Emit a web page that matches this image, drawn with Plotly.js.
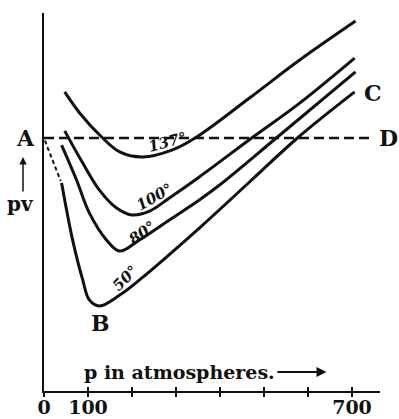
<!DOCTYPE html>
<html>
<head>
<meta charset="utf-8">
<script src="https://cdn.plot.ly/plotly-3.0.1.min.js"></script>
<style>
  html, body {margin: 0; padding: 0; background: #fff;}
  #chart {width: 399px; height: 419px;}
</style>
</head>
<body>
<div id="chart"></div>
<script>
// isotherms of pv against p (pv in units of the value at A)
var p137 = [47, 81, 131, 172, 224, 292, 347, 467, 581, 708]
var pv137 = [1.182, 1.099, 1.004, 0.945, 0.925, 0.953, 1.004, 1.158, 1.308, 1.462]
var p100 = [47, 88, 126, 165, 199, 240, 285, 353, 472, 581, 706]
var pv100 = [1.028, 0.901, 0.794, 0.723, 0.696, 0.711, 0.763, 0.846, 1.0, 1.138, 1.316]
var p80 = [40, 74, 103, 142, 172, 217, 285, 353, 399, 528, 708]
var pv80 = [0.972, 0.834, 0.704, 0.597, 0.553, 0.597, 0.676, 0.755, 0.814, 1.0, 1.261]
var p50 = [40, 65, 88, 103, 126, 172, 217, 353, 467, 576, 706]
var pv50 = [0.822, 0.597, 0.439, 0.360, 0.336, 0.379, 0.439, 0.644, 0.826, 1.0, 1.182]
var p50dash = [2, 38]
var pv50dash = [0.99, 0.83]
var pAD = [0, 747]
var pvAD = [1, 1]

var tickVals = [0, 100, 200, 300, 400, 500, 600, 700]
var tickText = ['0', '100', '', '', '', '', '', '700']

var ink = '#111'
var serif = 'DejaVu Serif'

function curve(x, y, dash, width){
	return {
		x: x,
		y: y,
		mode: 'lines',
		type: 'scatter',
		line: {color: ink, width: width, dash: dash, shape: 'spline', smoothing: 1},
		hoverinfo: 'skip',
		showlegend: false,
	}
}

var traces = [
	curve(pAD, pvAD, '10px,5px', 2.5),
	curve(p50dash, pv50dash, '4px,3px', 2),
	curve(p137, pv137, 'solid', 3),
	curve(p100, pv100, 'solid', 3),
	curve(p80, pv80, 'solid', 3),
	curve(p50, pv50, 'solid', 3),
]

// same ticks again, drawn on the inner side of the axis
var innerTicks = {x: [0, 700], y: [0, 0], xaxis: 'x2', mode: 'none', type: 'scatter', hoverinfo: 'skip', showlegend: false}
traces.push(innerTicks)

function label(text, x, y, size, extra){
	var a = {
		text: text, x: x, y: y, xref: 'x', yref: 'y',
		xanchor: 'center', yanchor: 'middle',
		showarrow: false,
		font: {family: serif, size: size, color: ink, weight: 'bold'},
	}
	return Object.assign(a, extra || {})
}

function degLabel(text, x, y, angle){
	return label(text, x, y, 15, {
		textangle: angle,
		font: {family: serif, size: 15, color: ink, weight: 'bold', style: 'italic'},
	})
}

// labels that sit outside the plotting area use paper coordinates
var annotations = [
	label('A', -0.054, 0.669, 22, {xref: 'paper', yref: 'paper'}),
	label('D', 1.024, 0.669, 22, {xref: 'paper', yref: 'paper'}),
	label('pv', -0.071, 0.495, 20, {xref: 'paper', yref: 'paper'}),
	label('B', 128, 0.269, 22),
	label('C', 747, 1.178, 22),
	label('p in atmospheres.', 87, 0.075, 19, {xanchor: 'left'}),
	degLabel('137°', 281, 0.984, -15),
	degLabel('100°', 251, 0.767, -30),
	degLabel('80°', 222, 0.625, -35),
	degLabel('50°', 185, 0.447, -45),
	{
		text: '', x: 642, y: 0.075, ax: 527, ay: 0.075, axref: 'x', ayref: 'y',
		xref: 'x', yref: 'y', showarrow: true, arrowhead: 2, arrowsize: 1,
		arrowwidth: 2, arrowcolor: ink,
	},
	{
		text: '', x: -0.0625, y: 0.619, ax: 0, ay: 36,
		xref: 'paper', yref: 'paper', showarrow: true, arrowhead: 2, arrowsize: 1,
		arrowwidth: 1.5, arrowcolor: ink,
	},
]

var layout = {
	width: 399,
	height: 419,
	margin: {l: 44, r: 19, t: 13, b: 28, pad: 0},
	paper_bgcolor: '#fff',
	plot_bgcolor: '#fff',
	showlegend: false,
	xaxis: {
		range: [0, 763.6],
		showline: true, linecolor: ink, linewidth: 2,
		showgrid: false, zeroline: false,
		ticks: 'outside', ticklen: 4, tickwidth: 2, tickcolor: ink,
		ticklabelstandoff: -6,
		tickvals: tickVals, ticktext: tickText,
		tickfont: {family: serif, size: 19, color: ink, weight: 'bold'},
		fixedrange: true,
	},
	xaxis2: {
		overlaying: 'x', matches: 'x', side: 'bottom', anchor: 'y',
		range: [0, 763.6],
		showline: false, showgrid: false, zeroline: false,
		ticks: 'inside', ticklen: 4, tickwidth: 2, tickcolor: ink,
		tickvals: tickVals, showticklabels: false,
	},
	yaxis: {
		range: [0, 1.494],
		showline: true, linecolor: ink, linewidth: 2,
		showgrid: false, zeroline: false,
		ticks: '', showticklabels: false,
		fixedrange: true,
	},
	annotations: annotations,
}

Plotly.newPlot('chart', traces, layout, {displayModeBar: false, staticPlot: true})
</script>
</body>
</html>
